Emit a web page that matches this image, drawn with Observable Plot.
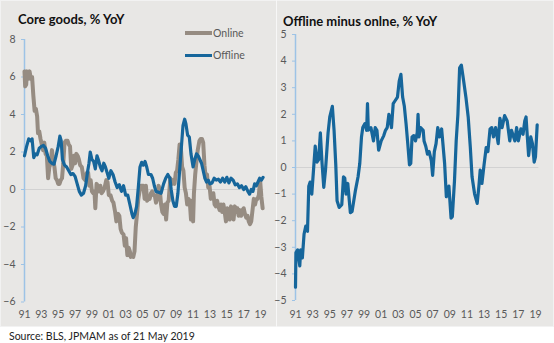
<!DOCTYPE html>
<html>
<head>
<meta charset="utf-8">
<script src="https://cdn.jsdelivr.net/npm/d3@7"></script>
<script src="https://cdn.jsdelivr.net/npm/@observablehq/plot@0.6"></script>
<style>
  body { margin: 0; background: #ffffff; font-family: Lato, "Open Sans", sans-serif; }
  #wrap { position: relative; width: 554px; height: 343px; overflow: hidden; }
  #bg { position: absolute; left: 0; top: 0; width: 552px; height: 325px; background: #e8e7e5; border: 1px solid #f2f2f2; }
  #divider { position: absolute; left: 276px; top: 0; width: 1px; height: 327px; background: #f7f7f7; }
  .panel { position: absolute; top: 0; }
  .title { position: absolute; font-weight: bold; font-size: 13px; color: #111; white-space: nowrap; line-height: 14px; }
  .leg { position: absolute; font-size: 10.5px; color: #595959; line-height: 12px; white-space: nowrap; }
  .legline { position: absolute; }
  #caption { position: absolute; left: 9px; top: 330px; font-size: 10.5px; color: #222; white-space: nowrap; }
</style>
</head>
<body>
<div id="wrap">
  <div id="bg"></div>
  <div id="divider"></div>
  <div id="left" class="panel" style="left:0px"></div>
  <div id="right" class="panel" style="left:276px"></div>
  <div class="title" style="left:18px; top:12px">Core goods, % YoY</div>
  <div class="title" style="left:283px; top:14px">Offline minus onlne, % YoY</div>
  <div class="legline" style="left:185px; top:31px; width:27px; height:4px; background:#968c82"></div>
  <div class="leg" style="left:213px; top:27px">Online</div>
  <div class="legline" style="left:185px; top:53.5px; width:27px; height:3px; background:#16669b"></div>
  <div class="leg" style="left:213px; top:49px">Offline</div>
  <div id="caption">Source: BLS, JPMAM as of 21 May 2019</div>
</div>
<script>
// ---- tick labels ----
const xTicks = [1991,1993,1995,1997,1999,2001,2003,2005,2007,2009,2011,2013,2015,2017,2019];
const yTicksLeft = [-6,-4,-2,0,2,4,6,8];
const yTicksRight = [-5,-4,-3,-2,-1,0,1,2,3,4,5];

// ---- Online core goods % YoY ----
const onlineT = [1991.0,1991.08,1991.2,1991.3,1991.45,1991.6,1991.75,1991.9,1992.05,1992.2,1992.35,1992.5,1992.6,1992.75,1992.9,1993.05,1993.2,1993.35,1993.5,1993.65,1993.8,1993.95,1994.1,1994.25,1994.4,1994.55,1994.7,1994.85,1995.0,1995.15,1995.3,1995.45,1995.6,1995.75,1995.9,1996.1,1996.25,1996.4,1996.55,1996.7,1996.85,1997.0,1997.15,1997.3,1997.45,1997.6,1997.8,1998.0,1998.2,1998.4,1998.55,1998.7,1998.85,1999.0,1999.15,1999.3,1999.4,1999.55,1999.7,1999.85,2000.0,2000.15,2000.3,2000.5,2000.7,2000.85,2001.0,2001.2,2001.4,2001.55,2001.75,2001.9,2002.1,2002.25,2002.4,2002.55,2002.75,2002.9,2003.05,2003.2,2003.35,2003.5,2003.6,2003.75,2003.9,2004.05,2004.2,2004.35,2004.5,2004.65,2004.8,2004.95,2005.1,2005.25,2005.4,2005.55,2005.7,2005.85,2006.0,2006.15,2006.3,2006.45,2006.6,2006.75,2006.9,2007.05,2007.2,2007.35,2007.5,2007.65,2007.8,2007.95,2008.1,2008.3,2008.5,2008.65,2008.8,2008.95,2009.1,2009.25,2009.4,2009.55,2009.7,2009.85,2010.0,2010.15,2010.3,2010.45,2010.6,2010.75,2010.85,2011.0,2011.1,2011.25,2011.4,2011.55,2011.75,2011.9,2012.05,2012.2,2012.35,2012.5,2012.65,2012.8,2012.95,2013.1,2013.25,2013.4,2013.55,2013.7,2013.85,2014.0,2014.15,2014.3,2014.45,2014.6,2014.75,2014.9,2015.05,2015.2,2015.35,2015.5,2015.65,2015.8,2015.95,2016.1,2016.25,2016.4,2016.55,2016.7,2016.85,2017.0,2017.15,2017.3,2017.45,2017.6,2017.75,2017.9,2018.05,2018.2,2018.35,2018.5,2018.65,2018.8,2018.95,2019.1,2019.25];
const onlineV = [6.3,5.5,5.6,6.3,5.9,6.3,5.9,6.0,5.0,4.2,4.3,3.9,3.0,3.1,2.7,2.4,2.1,2.5,1.9,1.8,0.6,1.2,1.4,2.1,1.6,1.2,0.6,0.5,0.3,0.3,0.5,0.6,1.4,2.5,2.6,2.6,2.4,2.3,1.1,1.3,1.8,1.4,1.9,1.8,1.6,1.3,1.2,0.6,0.5,0.9,0.9,0.2,0.5,-0.1,-0.2,-0.1,-1.0,0.3,0.2,-0.1,0.2,-0.2,-0.1,0.1,0.5,0.4,-0.3,-0.3,-0.6,-0.7,-1.2,-1.7,-1.3,-1.4,-2.1,-2.3,-2.4,-3.0,-2.6,-3.5,-3.1,-3.3,-3.6,-3.5,-3.6,-3.3,-2.0,-1.3,-0.5,-0.1,0.2,0.2,0.2,-0.5,0.2,-0.6,-0.5,-0.5,-0.2,-0.1,-0.3,-0.3,-0.7,-0.5,0.2,0.0,-0.8,-1.2,-1.3,-0.8,-1.6,-0.7,-0.6,0.6,0.3,0.5,0.3,0.9,1.0,1.6,2.4,2.2,1.2,1.0,0.1,-0.2,-0.8,-0.5,-0.6,-1.6,-0.6,-1.7,-0.2,0.8,1.5,2.1,2.6,2.7,2.7,2.5,1.3,0.6,0.8,0.1,0.2,-0.5,-0.4,-0.2,-0.8,-0.9,-0.6,-0.9,-1.1,-0.8,-1.2,-0.8,-1.2,-1.7,-1.0,-1.3,-1.6,-0.9,-1.1,-1.6,-0.9,-1.2,-1.0,-1.4,-1.1,-1.4,-1.1,-1.0,-1.3,-1.5,-1.4,-1.7,-1.85,-1.7,-1.1,-0.5,-0.8,-0.5,-0.5,-0.3,0.5,-0.4,-1.0];

// ---- Offline core goods % YoY ----
const offlineT = [1991.0,1991.25,1991.5,1991.75,1991.9,1992.1,1992.3,1992.5,1992.75,1993.0,1993.25,1993.5,1993.75,1994.0,1994.25,1994.5,1994.75,1995.0,1995.2,1995.35,1995.5,1995.75,1996.0,1996.25,1996.5,1996.75,1997.0,1997.25,1997.5,1997.75,1998.0,1998.25,1998.5,1998.65,1998.8,1999.0,1999.2,1999.4,1999.6,1999.75,2000.0,2000.2,2000.4,2000.6,2000.8,2001.0,2001.25,2001.5,2001.75,2002.0,2002.25,2002.5,2002.75,2003.0,2003.25,2003.5,2003.75,2003.9,2004.1,2004.3,2004.5,2004.7,2004.9,2005.1,2005.3,2005.5,2005.7,2006.0,2006.2,2006.4,2006.6,2006.9,2007.2,2007.5,2007.75,2008.0,2008.25,2008.4,2008.6,2008.8,2009.0,2009.2,2009.4,2009.6,2009.8,2010.0,2010.15,2010.35,2010.55,2010.75,2011.0,2011.2,2011.4,2011.6,2011.8,2012.0,2012.2,2012.4,2012.6,2012.8,2013.0,2013.25,2013.5,2013.75,2014.0,2014.25,2014.5,2014.75,2015.0,2015.25,2015.5,2015.75,2016.0,2016.25,2016.5,2016.75,2017.0,2017.25,2017.5,2017.7,2017.9,2018.1,2018.3,2018.5,2018.7,2018.9,2019.1,2019.3];
const offlineV = [1.8,2.3,2.7,2.6,2.7,1.7,1.9,1.85,2.2,2.3,2.35,2.2,1.8,1.5,1.4,1.35,1.8,2.3,2.85,2.6,1.6,1.3,1.2,1.0,0.8,0.85,0.7,0.3,-0.1,-0.3,-0.2,0.2,1.0,1.4,2.0,1.6,1.5,1.1,1.8,1.6,1.2,1.0,1.4,1.2,0.9,0.6,1.0,0.8,0.4,0.1,0.25,-0.1,0.2,-0.3,-0.3,-0.8,-1.3,-1.5,-1.3,-0.9,0.1,1.2,1.45,1.3,1.5,1.2,0.8,0.8,0.6,0.2,-0.1,-0.15,-0.2,0.3,0.6,0.8,0.6,0.0,-0.6,-0.9,-0.9,-0.2,1.0,2.2,3.4,3.75,3.5,2.9,2.8,1.9,1.2,1.6,1.9,1.8,1.6,1.4,1.0,0.6,0.4,0.5,0.3,0.35,0.6,0.5,0.55,0.4,0.6,0.4,0.65,0.35,0.6,0.5,0.25,0.3,0.1,0.2,0.0,0.15,-0.1,-0.25,0.0,-0.1,0.3,0.2,0.4,0.6,0.5,0.65];

// ---- Offline minus online, % YoY ----
const diffT = [1991.0,1991.05,1991.25,1991.5,1991.6,1991.8,1992.0,1992.2,1992.4,1992.55,1992.7,1992.9,1993.1,1993.3,1993.5,1993.7,1993.9,1994.1,1994.3,1994.5,1994.8,1995.0,1995.3,1995.5,1995.7,1995.85,1996.1,1996.4,1996.6,1996.75,1996.9,1997.1,1997.4,1997.6,1998.0,1998.3,1998.5,1998.7,1998.85,1999.1,1999.3,1999.4,1999.5,1999.8,2000.1,2000.3,2000.5,2000.7,2001.0,2001.3,2001.5,2001.7,2001.9,2002.2,2002.4,2002.6,2002.9,2003.1,2003.3,2003.5,2003.7,2003.9,2004.1,2004.3,2004.45,2004.6,2004.8,2005.0,2005.2,2005.3,2005.4,2005.6,2005.9,2006.0,2006.2,2006.4,2006.6,2006.85,2007.0,2007.2,2007.4,2007.6,2007.8,2008.05,2008.4,2008.6,2008.9,2009.15,2009.3,2009.55,2009.75,2009.95,2010.15,2010.35,2010.6,2010.9,2011.15,2011.4,2011.6,2011.9,2012.2,2012.4,2012.55,2012.75,2013.0,2013.25,2013.45,2013.7,2013.9,2014.1,2014.35,2014.65,2014.85,2015.1,2015.4,2015.7,2016.0,2016.2,2016.6,2016.8,2017.0,2017.3,2017.55,2017.75,2017.9,2018.05,2018.2,2018.45,2018.65,2018.85,2019.0,2019.2];
const diffV = [-4.5,-3.2,-3.1,-3.7,-3.1,-3.4,-2.5,-2.2,-2.4,-0.7,-0.55,-1.0,-0.1,0.8,0.2,0.3,1.3,0.15,-0.75,-0.1,1.3,1.9,2.3,1.4,0.1,-1.25,-1.5,-1.4,-0.35,-0.4,-1.0,-0.6,-1.7,-1.65,-0.85,-0.35,0.15,1.15,1.5,1.65,1.4,2.4,1.4,1.5,1.0,1.5,1.4,0.65,1.0,1.2,1.4,1.5,2.0,1.5,2.4,2.5,2.65,3.25,3.5,2.65,2.3,1.65,0.9,0.1,0.15,1.15,1.2,1.0,1.3,2.0,1.15,1.5,1.4,1.0,0.8,0.5,0.6,0.25,-0.3,0.6,0.9,1.5,1.15,1.45,0.15,-1.1,-0.7,-1.9,-1.85,-0.5,1.0,2.0,3.75,3.85,3.3,2.6,1.9,0.75,-0.35,-1.0,-1.35,-0.7,-0.1,-0.6,0.1,0.75,0.6,1.45,1.5,1.15,1.5,0.9,1.85,1.5,1.95,1.75,1.0,1.4,1.0,1.5,1.0,1.45,1.25,1.75,1.9,1.15,0.45,1.15,0.9,0.2,0.4,1.6];

const online = onlineT.map((t, i) => ({t, v: onlineV[i]}));
const offline = offlineT.map((t, i) => ({t, v: offlineV[i]}));
const diff = diffT.map((t, i) => ({t, v: diffV[i]}));

const GRAY = "#968c82", BLUE = "#16669b", AXIS = "#9dc3e6", TXT = "#595959";
const fmt = d => String(d % 100).padStart(2, "0");
const baseStyle = {background: "transparent", fontFamily: "Lato, 'Open Sans', sans-serif", fontSize: "10.5px", color: TXT, overflow: "visible"};

const left = Plot.plot({
  width: 276, height: 326,
  marginLeft: 24, marginRight: 12.6, marginTop: 39, marginBottom: 24.5,
  style: baseStyle,
  x: {domain: [1991, 2019.4]},
  y: {domain: [-6, 8]},
  marks: [
    Plot.ruleY([0], {stroke: "#d2d2d2", strokeWidth: 1}),
    Plot.axisX({ticks: xTicks, tickFormat: fmt, tickSize: 0, tickPadding: 9, label: null, fill: TXT}),
    Plot.axisY({ticks: yTicksLeft, tickSize: 3, tickPadding: 6, stroke: AXIS, label: null, fill: TXT}),
    Plot.ruleX([1991], {stroke: AXIS, strokeWidth: 1.5}),
    Plot.line(online, {x: "t", y: "v", stroke: GRAY, strokeWidth: 4, strokeLinejoin: "round"}),
    Plot.line(offline, {x: "t", y: "v", stroke: BLUE, strokeWidth: 3.2, strokeLinejoin: "round"})
  ]
});
document.getElementById("left").appendChild(left);

const right = Plot.plot({
  width: 278, height: 326,
  marginLeft: 19, marginRight: 15.6, marginTop: 34, marginBottom: 26,
  style: baseStyle,
  x: {domain: [1991, 2019.4]},
  y: {domain: [-5, 5]},
  marks: [
    Plot.ruleY([0], {stroke: "#d2d2d2", strokeWidth: 1}),
    Plot.axisX({ticks: xTicks, tickFormat: fmt, tickSize: 0, tickPadding: 10.5, label: null, fill: TXT}),
    Plot.axisY({ticks: yTicksRight, tickSize: 3, tickPadding: 6, stroke: AXIS, label: null, fill: TXT}),
    Plot.ruleX([1991], {stroke: AXIS, strokeWidth: 1.5}),
    Plot.line(diff, {x: "t", y: "v", stroke: BLUE, strokeWidth: 3.2, strokeLinejoin: "round"})
  ]
});
document.getElementById("right").appendChild(right);
</script>
</body>
</html>
